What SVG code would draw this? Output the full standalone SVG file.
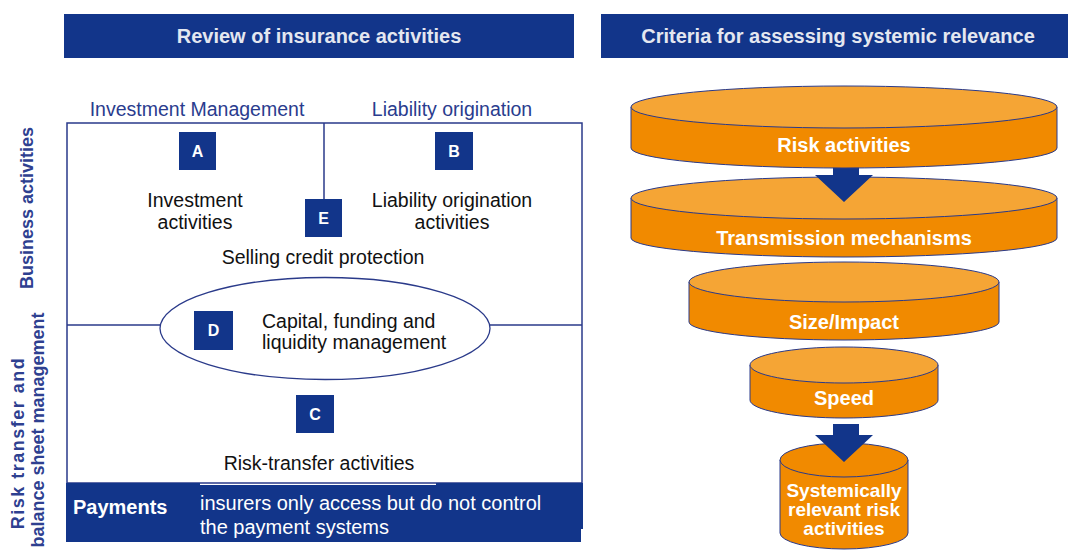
<svg xmlns="http://www.w3.org/2000/svg" width="1068" height="551" viewBox="0 0 1068 551">
<style>
.hdr{fill:#12358A}
.hdrt{font-family:"Liberation Sans",Arial,sans-serif;font-size:20px;font-weight:bold;fill:#E4E7F0;text-anchor:middle}
.lbl{font-family:"Liberation Sans",Arial,sans-serif;font-size:19.5px;fill:#2A3C8E;text-anchor:middle}
.body{font-family:"Liberation Sans",Arial,sans-serif;font-size:19.5px;fill:#111;text-anchor:middle}
.side{font-family:"Liberation Sans",Arial,sans-serif;font-size:18px;font-weight:bold;fill:#2E4090;text-anchor:middle}
.box{fill:#12358A}
.let{font-family:"Liberation Sans",Arial,sans-serif;font-size:16px;font-weight:bold;fill:#fff;text-anchor:middle}
.ln{stroke:#2A3A8A;stroke-width:1.5;fill:none}
.wt{font-family:"Liberation Sans",Arial,sans-serif;font-size:20px;fill:#fff}
.ft{font-family:"Liberation Sans",Arial,sans-serif;font-size:20px;font-weight:bold;fill:#fff;text-anchor:middle}
.ft2{font-family:"Liberation Sans",Arial,sans-serif;font-size:19px;font-weight:bold;fill:#fff;text-anchor:middle}
.sidef{fill:#F18A00;stroke:#2A3A8A;stroke-width:1}
.topf{fill:#F5A535;stroke:#2A3A8A;stroke-width:1}
.topd{fill:#F18A00;stroke:#2A3A8A;stroke-width:1}
.arr{fill:#12358A}
</style>

<g id="header-left">
<rect class="hdr" x="64" y="14" width="510" height="44"/>
<text class="hdrt" x="319" y="43">Review of insurance activities</text>
</g>
<g id="header-right">
<rect class="hdr" x="601" y="14" width="467" height="44"/>
<text class="hdrt" x="838" y="43">Criteria for assessing systemic relevance</text>
</g>

<g id="axis-labels">
<text class="lbl" x="197" y="116">Investment Management</text>
<text class="lbl" x="452" y="116">Liability origination</text>
<text class="side" transform="translate(33,208) rotate(-90)">Business activities</text>
<text class="side" letter-spacing="1.5" transform="translate(23.5,443) rotate(-90)">Risk transfer and</text>
<text class="side" transform="translate(43.5,430) rotate(-90)">balance sheet management</text>
</g>

<g id="frame">
<rect class="ln" x="67" y="123" width="515" height="360" style="fill:#fff"/>
<line class="ln" x1="324" y1="123" x2="324" y2="200"/>
<line class="ln" x1="67" y1="325" x2="160" y2="325"/>
<line class="ln" x1="490" y1="325" x2="582" y2="325"/>
</g>

<g id="node-A">
<rect class="box" x="179" y="132" width="37" height="38"/>
<text class="let" x="197.5" y="157">A</text>
<text class="body" x="195" y="207">Investment</text>
<text class="body" x="195" y="229">activities</text>
</g>
<g id="node-B">
<rect class="box" x="435" y="132" width="38" height="38"/>
<text class="let" x="454" y="157">B</text>
<text class="body" x="452" y="207">Liability origination</text>
<text class="body" x="452" y="229">activities</text>
</g>
<g id="node-E">
<rect class="box" x="305" y="199" width="37" height="38"/>
<text class="let" x="323.5" y="224">E</text>
<text class="body" x="323" y="264">Selling credit protection</text>
</g>
<g id="node-D">
<ellipse cx="325" cy="328.5" rx="165" ry="51" style="fill:#fff;stroke:#2A3A8A;stroke-width:1.3"/>
<rect class="box" x="194" y="311" width="39" height="39"/>
<text class="let" x="213.5" y="336">D</text>
<text class="body" x="262" y="328" style="text-anchor:start">Capital, funding and</text>
<text class="body" x="262" y="349" style="text-anchor:start">liquidity management</text>
</g>
<g id="node-C">
<rect class="box" x="296" y="395" width="38" height="38"/>
<text class="let" x="315" y="420">C</text>
<text class="body" x="319" y="470">Risk-transfer activities</text>
</g>
<g id="node-payments">
<path class="box" d="M66,483 H200 V485 H436 V483 H583 V529 H581 V542 H66 Z"/>
<text class="wt" x="73" y="514" style="font-weight:bold">Payments</text>
<text class="wt" x="200" y="510">insurers only access but do not control</text>
<text class="wt" x="200" y="534">the payment systems</text>
</g>

<g id="disc-5">
<path class="sidef" d="M780,460 V533 A64,16 0 0 0 908,533 V460 Z"/>
<ellipse class="topd" cx="844" cy="460" rx="64" ry="17"/>
<text class="ft2" x="844" y="497">Systemically</text>
<text class="ft2" x="844" y="516">relevant risk</text>
<text class="ft2" x="844" y="535">activities</text>
</g>
<g id="connectors">
<path class="arr" d="M833,424 H859 V435 H873 L844,462 L815,435 H833 Z"/>
</g>
<g id="disc-4">
<path class="sidef" d="M750,365 V400 A94,18 0 0 0 938,400 V365 Z"/>
<ellipse class="topf" cx="844" cy="365" rx="94" ry="18"/>
<text class="ft" x="844" y="405">Speed</text>
</g>
<g id="disc-3">
<path class="sidef" d="M689,282 V322 A155,18 0 0 0 999,322 V282 Z"/>
<ellipse class="topf" cx="844" cy="282" rx="155" ry="20"/>
<text class="ft" x="844" y="329">Size/Impact</text>
</g>
<g id="disc-2">
<path class="sidef" d="M631,198 V238 A213,19 0 0 0 1057,238 V198 Z"/>
<ellipse class="topf" cx="844" cy="198" rx="213" ry="21"/>
<text class="ft" x="844" y="245">Transmission mechanisms</text>
</g>
<g id="connectors-2">
<path class="arr" d="M833,165 H859 V175 H873 L844,202 L815,175 H833 Z"/>
</g>
<g id="disc-1">
<path class="sidef" d="M631,107 V148 A213,20 0 0 0 1057,148 V107 Z"/>
<ellipse class="topf" cx="844" cy="107" rx="213" ry="21"/>
<text class="ft" x="844" y="152">Risk activities</text>
</g>
</svg>
